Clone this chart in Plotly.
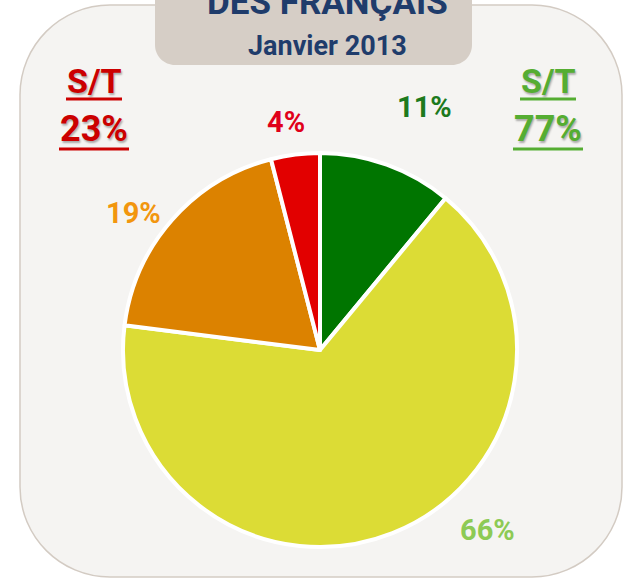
import plotly.graph_objects as go

# ---- data ----
categories = ["Très satisfaits", "Plutôt satisfaits", "Plutôt pas satisfaits", "Pas du tout satisfaits"]
values = [11, 66, 19, 4]
slice_colors = ["#007500", "#dcdc35", "#dc8200", "#e20000"]
label_colors = ["#1d7a1d", "#8dca55", "#f2960e", "#e0001a"]
subtotal_labels = ["S/T", "S/T"]
subtotal_values = [23, 77]
subtotal_colors = ["#cc0000", "#55ad32"]
title_main = "DES FRANÇAIS"
title_sub = "Janvier 2013"

W, H = 629, 579
FONT = "Roboto"


def rounded_rect(x0, y0, x1, y1, r):
    k = 0.5523 * r
    return (
        f"M{x0+r},{y0} L{x1-r},{y0} C{x1-r+k},{y0} {x1},{y0+r-k} {x1},{y0+r} "
        f"L{x1},{y1-r} C{x1},{y1-r+k} {x1-r+k},{y1} {x1-r},{y1} "
        f"L{x0+r},{y1} C{x0+r-k},{y1} {x0},{y1-r+k} {x0},{y1-r} "
        f"L{x0},{y0+r} C{x0},{y0+r-k} {x0+r-k},{y0} {x0+r},{y0} Z"
    )


fig = go.Figure()

fig.add_trace(go.Pie(
    labels=categories,
    values=values,
    sort=False,
    direction="clockwise",
    rotation=0,
    marker=dict(colors=slice_colors, line=dict(color="white", width=4)),
    textinfo="none",
    hoverinfo="skip",
    showlegend=False,
    domain=dict(x=[123 / W, 517 / W], y=[(H - 548) / H, (H - 152) / H]),
))

shapes = [
    dict(type="path", path=rounded_rect(20, 5, 622, 577, 90), xref="x", yref="y",
         fillcolor="#f5f4f2", line=dict(color="#d3cbc3", width=1.5), layer="below"),
    dict(type="path", path=rounded_rect(155, -40, 472, 65, 20), xref="x", yref="y",
         fillcolor="#d6cec6", line=dict(width=0), layer="below"),
]

annotations = [
    dict(x=327, y=25, text=f"<b>{title_main}</b>", showarrow=False, xanchor="center", yanchor="bottom",
         font=dict(family=FONT, size=35, color="#1f3c6b")),
    dict(x=327, y=46, text=f"<b>{title_sub}</b>", showarrow=False, xanchor="center", yanchor="middle",
         font=dict(family=FONT, size=27, color="#1f3c6b")),
]

# percentage labels
label_pos = [(424, 107), (487, 530), (133, 213), (286, 122)]
for v, c, (lx, ly) in zip(values, label_colors, label_pos):
    annotations.append(dict(x=lx, y=ly, text=f"<b>{v}%</b>", showarrow=False, xanchor="center",
                            yanchor="middle", font=dict(family=FONT, size=29, color=c)))

# subtotals
sub_x = [94, 548]
shadow = "1px 2px 2px rgba(0,0,0,0.3)"
for lab, v, c, sx in zip(subtotal_labels, subtotal_values, subtotal_colors, sub_x):
    annotations.append(dict(x=sx, y=81, text=f"<b>{lab}</b>", showarrow=False, xanchor="center",
                            yanchor="middle", font=dict(family=FONT, size=34, color=c, shadow=shadow)))
    annotations.append(dict(x=sx, y=129, text=f"<b>{v}%</b>", showarrow=False, xanchor="center",
                            yanchor="middle", font=dict(family=FONT, size=36, color=c, shadow=shadow)))
    shapes.append(dict(type="line", x0=sx - 28, x1=sx + 28, y0=99, y1=99, xref="x", yref="y",
                       line=dict(color=c, width=3)))
    shapes.append(dict(type="line", x0=sx - 35, x1=sx + 35, y0=149, y1=149, xref="x", yref="y",
                       line=dict(color=c, width=3)))

fig.update_layout(
    width=W, height=H,
    margin=dict(l=0, r=0, t=0, b=0),
    paper_bgcolor="white",
    plot_bgcolor="rgba(0,0,0,0)",
    xaxis=dict(range=[0, W], visible=False, fixedrange=True),
    yaxis=dict(range=[H, 0], visible=False, fixedrange=True),
    shapes=shapes,
    annotations=annotations,
    showlegend=False,
)

fig.write_html("out.html", config={"staticPlot": True},
               post_script="document.body.style.margin='0';document.body.style.overflow='hidden';")
